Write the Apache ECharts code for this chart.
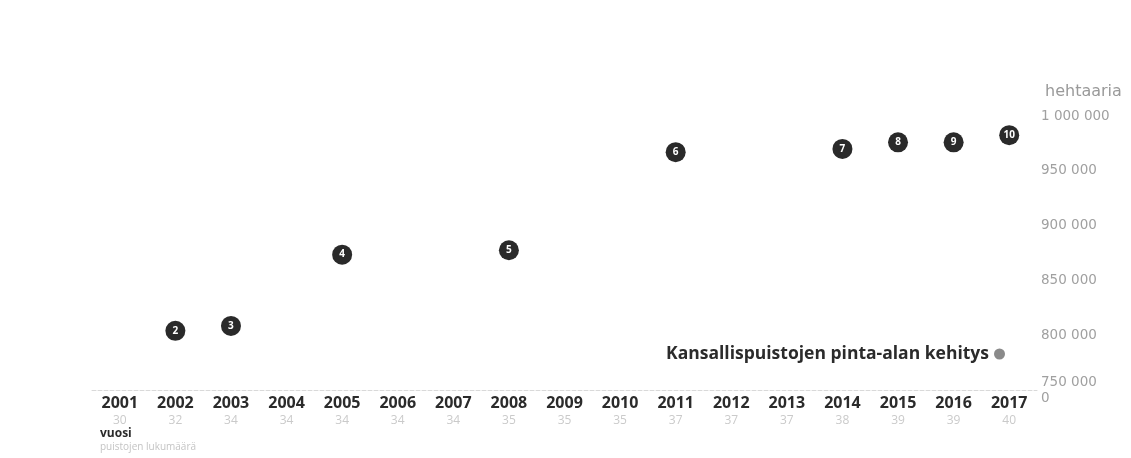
<!DOCTYPE html>
<html>
<head>
<meta charset="utf-8">
<script src="https://cdn.jsdelivr.net/npm/echarts@6/dist/echarts.min.js"></script>
<style>
  html, body { margin: 0; padding: 0; background: #fff; }
  #main { width: 1131px; height: 458px; }
</style>
</head>
<body>
<div id="main"></div>
<script>
var years = ['2001','2002','2003','2004','2005','2006','2007','2008','2009','2010','2011','2012','2013','2014','2015','2016','2017'];
// puistojen lukumäärä (number of parks per year)
var parkCounts = [30, 32, 34, 34, 34, 34, 34, 35, 35, 35, 37, 37, 37, 38, 39, 39, 40];
// pinta-ala (hehtaaria) at the years that have a marker
var areaYears = ['2002','2003','2005','2008','2011','2014','2015','2016','2017'];
var areaValues = [804000, 808500, 873500, 877500, 967000, 970000, 976000, 976000, 982500];
var noteNumbers = ['2','3','4','5','6','7','8','9','10'];

var points = [];
for (var i = 0; i < areaYears.length; i++) {
    points.push({ value: [areaYears[i], areaValues[i]], note: noteNumbers[i] });
}

function fmtThousands(v) {
    return String(v).replace(/\B(?=(\d{3})+(?!\d))/g, ' ');
}

var chart = echarts.init(document.getElementById('main'));
var option = {
    animation: false,
    textStyle: { fontFamily: 'Open Sans' },
    grid: { left: 92, right: 94, top: 116, bottom: 68 },
    legend: {
        right: 121,
        top: 340,
        align: 'right',
        icon: 'circle',
        itemWidth: 11,
        itemHeight: 11,
        itemGap: 10,
        itemStyle: { color: '#8a8a8a', opacity: 1 },
        textStyle: { fontSize: 17.5, fontWeight: 'bold', color: '#2b2b2b', fontFamily: 'Open Sans' },
        data: ['Kansallispuistojen pinta-alan kehitys']
    },
    xAxis: {
        type: 'category',
        data: years,
        boundaryGap: true,
        axisLine: { show: true, lineStyle: { color: '#d9d9d9', type: 'dashed', width: 1 } },
        axisTick: { show: false },
        splitLine: { show: false },
        axisLabel: {
            margin: 3,
            interval: 0,
            formatter: function (val, idx) {
                return '{y|' + val + '}\n{c|' + parkCounts[idx] + '}';
            },
            rich: {
                y: { fontSize: 16, fontWeight: 'bold', color: '#2b2b2b', lineHeight: 21, fontFamily: 'Open Sans' },
                c: { fontSize: 12, color: '#cacaca', lineHeight: 14, fontFamily: 'Open Sans' }
            }
        }
    },
    yAxis: {
        type: 'value',
        position: 'right',
        min: 750000,
        max: 1000000,
        interval: 50000,
        name: 'hehtaaria',
        nameLocation: 'end',
        nameGap: 16,
        nameTextStyle: { color: '#9a9a9a', fontSize: 16, align: 'left', padding: [0, 0, 0, 8], fontFamily: 'DejaVu Sans' },
        axisLine: { show: false },
        axisTick: { show: false },
        splitLine: { show: false },
        axisLabel: {
            margin: 4,
            color: '#a0a0a0',
            fontSize: 13.5,
            fontFamily: 'DejaVu Sans',
            formatter: function (v) {
                if (v === 750000) return fmtThousands(v) + '\n0';
                return fmtThousands(v);
            },
            lineHeight: 16
        }
    },
    series: [
        {
            name: 'Kansallispuistojen pinta-alan kehitys',
            type: 'scatter',
            symbol: 'circle',
            symbolSize: 20,
            itemStyle: { color: '#2a2a2a', opacity: 1 },
            label: {
                show: true,
                position: 'inside',
                color: '#fff',
                fontSize: 10,
                fontWeight: 'bold',
                formatter: function (p) { return p.data.note; }
            },
            data: points
        }
    ],
    graphic: [
        {
            type: 'text',
            left: 100,
            top: 428,
            style: { text: 'vuosi', fontSize: 12, fontWeight: 'bold', fill: '#2b2b2b', fontFamily: 'Open Sans' }
        },
        {
            type: 'text',
            left: 100,
            top: 442,
            style: { text: 'puistojen lukumäärä', fontSize: 10, fill: '#c4c4c4', fontFamily: 'Open Sans' }
        }
    ]
};
chart.setOption(option);
</script>
</body>
</html>
